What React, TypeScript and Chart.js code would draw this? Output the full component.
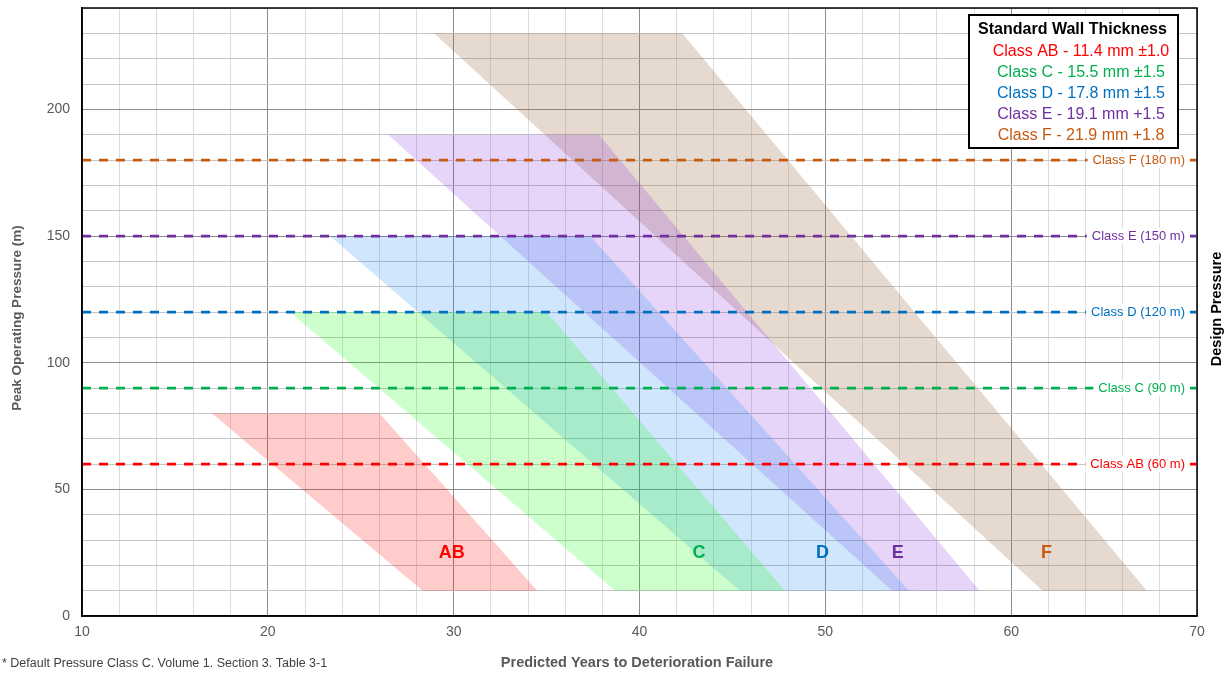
import React, { useEffect, useRef } from 'react';
import { Chart, registerables } from 'chart.js';

Chart.register(...registerables);

const FONT = '"Liberation Sans", Arial, Helvetica, sans-serif';

// ---- data ----
const bandNames = ['AB', 'C', 'D', 'E', 'F'];
const bandTopY = [80, 120, 150, 190, 230];
const bandBottomY = [10, 10, 10, 10, 10];
const bandTopLeftX = [16.98, 21.2, 23.35, 26.48, 28.94];
const bandTopRightX = [26.0, 35.0, 37.34, 37.82, 42.3];
const bandBottomRightX = [34.5, 47.83, 54.5, 58.3, 67.3];
const bandBottomLeftX = [28.33, 38.68, 45.4, 53.6, 61.7];
const bandLabelX = [29.9, 43.2, 49.85, 53.9, 61.9];
const bandLabelY = [25, 25, 25, 25, 25];

const classColors = ['#ff0000', '#00b050', '#0070c0', '#7030a0', '#c55a11'];
const bandFills = [
  'rgba(255,0,0,0.2)',
  'rgba(0,255,0,0.2)',
  'rgba(20,130,240,0.2)',
  'rgba(130,45,220,0.2)',
  'rgba(155,103,63,0.25)',
];

const designLabels = ['Class AB (60 m)', 'Class C (90 m)', 'Class D (120 m)', 'Class E (150 m)', 'Class F (180 m)'];
const designValues = [60, 90, 120, 150, 180];

const legendTitle = 'Standard Wall Thickness';
const legendEntries = [
  'Class AB - 11.4 mm \u00b11.0',
  'Class C - 15.5 mm \u00b11.5',
  'Class D - 17.8 mm \u00b11.5',
  'Class E - 19.1 mm +1.5',
  'Class F - 21.9 mm +1.8',
];

const xMin = 10;
const xMax = 70;
const xStep = 2;
const xLabelEvery = 10;
const yMin = 0;
const yMax = 240;
const yStep = 10;
const yLabelEvery = 50;

const xTitle = 'Predicted Years to Deterioration Failure';
const yTitle = 'Peak Operating Pressure (m)';
const y2Title = 'Design Pressure';
const footnote = '* Default Pressure Class C. Volume 1. Section 3. Table 3-1';

const overlayPlugin = {
  id: 'overlay',
  afterDatasetsDraw(chart: any) {
    const { ctx, chartArea } = chart;
    const xs = chart.scales.x;
    const ys = chart.scales.y;
    ctx.save();
    // band labels
    ctx.font = `bold 18px ${FONT}`;
    ctx.textAlign = 'center';
    ctx.textBaseline = 'middle';
    bandNames.forEach((n, i) => {
      ctx.fillStyle = classColors[i];
      ctx.fillText(n, xs.getPixelForValue(bandLabelX[i]), ys.getPixelForValue(bandLabelY[i]));
    });
    // design line labels
    ctx.font = `13px ${FONT}`;
    ctx.textAlign = 'right';
    designLabels.forEach((t, i) => {
      const py = ys.getPixelForValue(designValues[i]);
      const right = chartArea.right - 12;
      const w = ctx.measureText(t).width;
      ctx.fillStyle = '#ffffff';
      ctx.fillRect(right - w - 5, py - 8, w + 10, 16);
      ctx.fillStyle = classColors[i];
      ctx.fillText(t, right, py + 0.5);
    });
    // plot border
    ctx.strokeStyle = '#000';
    ctx.lineWidth = 1.5;
    ctx.strokeRect(chartArea.left, chartArea.top, chartArea.right - chartArea.left, chartArea.bottom - chartArea.top);
    ctx.restore();
  },
  afterDraw(chart: any) {
    const { ctx } = chart;
    ctx.save();
    // legend box
    const bx = 969, by = 15, bw = 209, bh = 133;
    ctx.fillStyle = '#fff';
    ctx.fillRect(bx, by, bw, bh);
    ctx.strokeStyle = '#000';
    ctx.lineWidth = 2;
    ctx.strokeRect(bx, by, bw, bh);
    ctx.textAlign = 'center';
    ctx.textBaseline = 'middle';
    ctx.font = `bold 16px ${FONT}`;
    ctx.fillStyle = '#000';
    ctx.fillText(legendTitle, 1072.5, 30);
    ctx.font = `16px ${FONT}`;
    legendEntries.forEach((t, i) => {
      ctx.fillStyle = classColors[i];
      ctx.fillText(t, 1081, 52 + i * 20.8);
    });
    // axis titles
    ctx.fillStyle = '#595959';
    ctx.font = `bold 14.5px ${FONT}`;
    ctx.fillText(xTitle, 637, 663);
    ctx.save();
    ctx.font = `bold 13.5px ${FONT}`;
    ctx.translate(17, 318);
    ctx.rotate(-Math.PI / 2);
    ctx.fillText(yTitle, 0, 0);
    ctx.restore();
    ctx.save();
    ctx.fillStyle = '#000';
    ctx.font = `bold 14.5px ${FONT}`;
    ctx.translate(1217, 309);
    ctx.rotate(-Math.PI / 2);
    ctx.fillText(y2Title, 0, 0);
    ctx.restore();
    // footnote
    ctx.textAlign = 'left';
    ctx.fillStyle = '#404040';
    ctx.font = `12.5px ${FONT}`;
    ctx.fillText(footnote, 2, 664);
    ctx.restore();
  },
};

export default function App() {
  const ref = useRef<HTMLCanvasElement>(null);
  useEffect(() => {
    if (!ref.current) return;
    const lineDatasets = designValues.map((v, i) => ({
      label: designLabels[i],
      data: [
        { x: xMin, y: v },
        { x: xMax, y: v },
      ],
      showLine: true,
      borderColor: classColors[i],
      borderWidth: 2.75,
      borderDash: [9, 8],
      borderCapStyle: 'butt',
      pointRadius: 0,
      fill: false,
    }));
    const bandDatasets = bandNames.map((n, i) => ({
      label: n,
      data: [
        { x: bandTopLeftX[i], y: bandTopY[i] },
        { x: bandTopRightX[i], y: bandTopY[i] },
        { x: bandBottomRightX[i], y: bandBottomY[i] },
        { x: bandBottomLeftX[i], y: bandBottomY[i] },
        { x: bandTopLeftX[i], y: bandTopY[i] },
      ],
      showLine: true,
      borderWidth: 0,
      borderColor: 'rgba(0,0,0,0)',
      backgroundColor: bandFills[i],
      pointRadius: 0,
      fill: 'shape',
      tension: 0,
    }));
    const chart = new Chart(ref.current, {
      type: 'scatter',
      data: { datasets: [...lineDatasets, ...bandDatasets] as any },
      options: {
        animation: false,
        responsive: false,
        devicePixelRatio: 1,
        layout: { padding: { top: 8, right: 31, left: 0, bottom: 0 } },
        plugins: { legend: { display: false }, tooltip: { enabled: false } },
        scales: {
          x: {
            type: 'linear',
            min: xMin,
            max: xMax,
            afterFit: (axis: any) => {
              axis.height = 57;
              axis.paddingLeft = 0;
              axis.paddingRight = 0;
            },
            border: { color: '#000', width: 1.5 },
            grid: {
              drawTicks: false,
              color: (c: any) => (c.tick && c.tick.value % xLabelEvery === 0 ? '#8c8c8c' : '#dcdcdc'),
              lineWidth: 1,
            },
            ticks: {
              stepSize: xStep,
              autoSkip: false,
              maxRotation: 0,
              padding: 8,
              color: '#595959',
              font: { family: FONT, size: 14 },
              callback: (v: any) => (Number(v) % xLabelEvery === 0 ? String(v) : ''),
            },
          },
          y: {
            type: 'linear',
            min: yMin,
            max: yMax,
            afterFit: (axis: any) => {
              axis.width = 82;
              axis.paddingTop = 0;
              axis.paddingBottom = 0;
            },
            border: { color: '#000', width: 1.5 },
            grid: {
              drawTicks: false,
              color: (c: any) => (c.tick && c.tick.value % yLabelEvery === 0 ? '#8c8c8c' : '#c4c4c4'),
              lineWidth: 1,
            },
            ticks: {
              stepSize: yStep,
              autoSkip: false,
              padding: 12,
              color: '#595959',
              font: { family: FONT, size: 14 },
              callback: (v: any) => (Number(v) % yLabelEvery === 0 && Number(v) <= 200 ? String(v) : ''),
            },
          },
        },
      },
      plugins: [overlayPlugin],
    });
    return () => chart.destroy();
  }, []);
  return (
    <canvas
      ref={ref}
      width={1228}
      height={673}
      style={{ position: 'fixed', left: 0, top: 0, width: 1228, height: 673, display: 'block' }}
    />
  );
}
